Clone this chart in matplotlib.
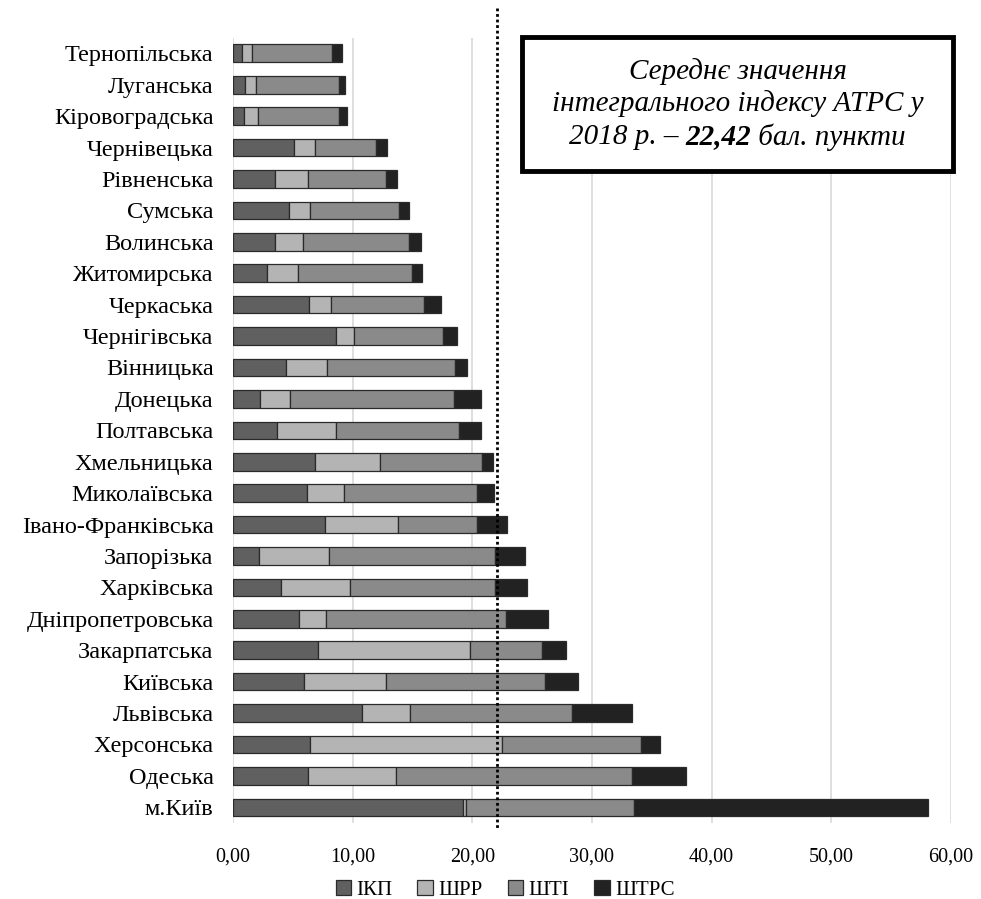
import matplotlib
matplotlib.use("Agg")
import matplotlib.pyplot as plt
from matplotlib.patches import Rectangle
import numpy as np

plt.rcParams['font.family'] = ['Liberation Serif', 'DejaVu Serif']

regions = ["Тернопільська", "Луганська", "Кіровоградська", "Чернівецька", "Рівненська",
           "Сумська", "Волинська", "Житомирська", "Черкаська", "Чернігівська",
           "Вінницька", "Донецька", "Полтавська", "Хмельницька", "Миколаївська",
           "Івано-Франківська", "Запорізька", "Харківська", "Дніпропетровська",
           "Закарпатська", "Київська", "Львівська", "Херсонська", "Одеська", "м.Київ"]

ikp = [0.73, 1.00, 0.92, 5.09, 3.51, 4.67, 3.51, 2.84, 6.38, 8.63,
       4.46, 2.23, 3.70, 6.82, 6.18, 7.68, 2.20, 4.04, 5.54, 7.13,
       5.96, 10.77, 6.40, 6.29, 19.23]
shrr = [0.83, 0.90, 1.20, 1.75, 2.78, 1.73, 2.33, 2.59, 1.80, 1.47,
        3.42, 2.56, 4.93, 5.45, 3.09, 6.09, 5.79, 5.76, 2.22, 12.71,
        6.84, 4.06, 16.11, 7.37, 0.22]
shti = [6.68, 6.95, 6.73, 5.10, 6.51, 7.46, 8.91, 9.49, 7.82, 7.49,
        10.71, 13.71, 10.29, 8.57, 11.16, 6.66, 13.91, 12.10, 15.09, 6.01,
        13.24, 13.50, 11.58, 19.70, 14.08]
shtrs = [0.86, 0.47, 0.67, 0.89, 0.89, 0.81, 0.98, 0.91, 1.42, 1.14,
         0.98, 2.26, 1.84, 0.90, 1.41, 2.47, 2.47, 2.67, 3.48, 1.95,
         2.82, 5.03, 1.61, 4.48, 24.57]

series_names = ["ІКП", "ШРР", "ШТІ", "ШТРС"]
series_colors = ["#606060", "#b4b4b4", "#8a8a8a", "#222222"]
mean_line = 22.1
xticks = [0, 10, 20, 30, 40, 50, 60]

fig = plt.figure(figsize=(9.81, 8.99), dpi=100)
ax = fig.add_axes([0.2375, 0.0845, 0.9694 - 0.2375, 0.9582 - 0.0845])

y = np.arange(len(regions))
left = np.zeros(len(regions))
for vals, name, col in zip([ikp, shrr, shti, shtrs], series_names, series_colors):
    ax.barh(y, vals, left=left, height=0.56, color=col, edgecolor="#2a2a2a",
            linewidth=0.9, label=name, zorder=3)
    left = left + np.array(vals)

ax.set_xlim(0, 60)
ax.set_ylim(len(regions) - 0.5, -0.5)
ax.set_xticks(xticks)
ax.set_xticklabels([f"{v:.2f}".replace(".", ",") for v in xticks], fontsize=14.5)
ax.set_yticks(y)
ax.set_yticklabels(regions, fontsize=17.5)
ax.tick_params(axis="both", length=0)
ax.tick_params(axis="y", pad=14)
ax.tick_params(axis="x", pad=18)
for s in ax.spines.values():
    s.set_visible(False)
ax.xaxis.grid(True, color="#d9d9d9", linewidth=1.2, zorder=0)
ax.set_axisbelow(True)

ax.plot([mean_line, mean_line], [-1.45, len(regions) - 0.35], linestyle=(0, (1, 1)),
        color="black", linewidth=2.0, clip_on=False, zorder=5)

leg = fig.legend(loc="center", bbox_to_anchor=(505 / 981, 1 - 890 / 899), ncol=4,
                 frameon=False, fontsize=15, handlelength=0.75, handleheight=0.75,
                 handletextpad=0.25, columnspacing=1.2)

# annotation box
bx0, bx1 = 522 / 981, 953 / 981
by0, by1 = 1 - 171 / 899, 1 - 37 / 899
fig.patches.append(Rectangle((bx0, by0), bx1 - bx0, by1 - by0, transform=fig.transFigure,
                             facecolor="white", edgecolor="black", linewidth=3.5, zorder=10))
cx = (bx0 + bx1) / 2
fs = 21
fig.text(cx, 1 - 72 / 899, "Середнє значення", ha="center", va="center",
         fontsize=fs, style="italic", zorder=11)
fig.text(cx, 1 - 104 / 899, "інтегрального індексу АТРС у", ha="center", va="center",
         fontsize=fs, style="italic", zorder=11)
parts = [("2018 р. – ", "normal"), ("22,42", "bold"), (" бал. пункти", "normal")]
fig.canvas.draw()
r = fig.canvas.get_renderer()
texts = []
widths = []
for s, w in parts:
    t = fig.text(0, 1 - 137 / 899, s, ha="left", va="center", fontsize=fs,
                 style="italic", weight=w, zorder=11)
    texts.append(t)
    widths.append(t.get_window_extent(renderer=r).width / fig.bbox.width)
total = sum(widths)
x = cx - total / 2
for t, w in zip(texts, widths):
    t.set_x(x)
    x += w

fig.savefig("out.png", dpi=100)
